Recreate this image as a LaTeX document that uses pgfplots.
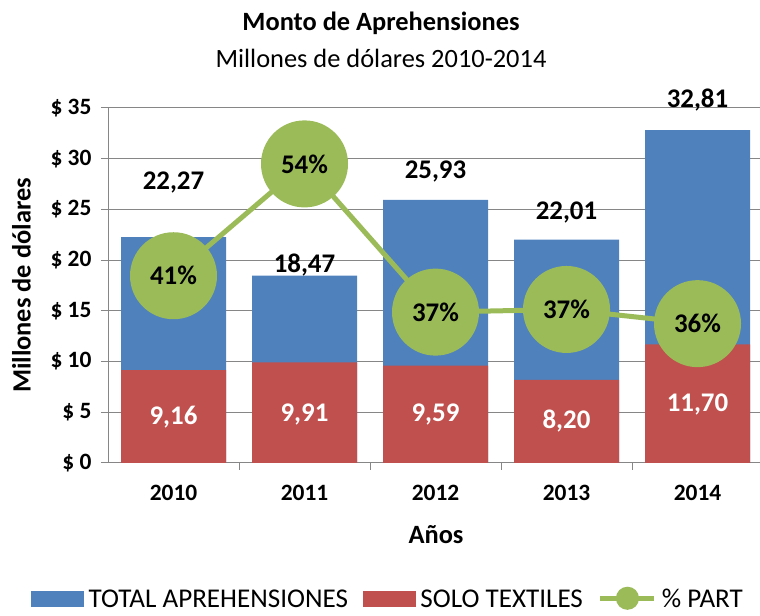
\documentclass[border=0pt]{standalone}
\usepackage{pgfplots}
\pgfplotsset{compat=1.18}
\usepackage{fontspec}
\setmainfont{Carlito}
\definecolor{cblue}{HTML}{4F81BD}
\definecolor{cred}{HTML}{C0504D}
\definecolor{cgreen}{HTML}{9BBB59}
\definecolor{cgrid}{HTML}{868686}
\begin{document}
\begin{tikzpicture}[x=1bp,y=1bp]
\path[use as bounding box] (0,0) rectangle (760,616);
\node[font=\fontsize{26.5}{30}\selectfont\bfseries] at (381,593) {Monto de Aprehensiones};
\node[font=\fontsize{26.5}{30}\selectfont] at (381,558) {Millones de dólares 2010-2014};
\begin{axis}[
  at={(108bp,153bp)}, anchor=south west, scale only axis,
  width=655bp, height=355bp,
  xmin=-0.5, xmax=4.5, ymin=0, ymax=35,
  clip=false,
  axis x line*=bottom, axis y line*=left,
  axis line style={cgrid, line width=1bp, -},
  ytick={0,5,...,35},
  yticklabels={\$ 0,\$ 5,\$ 10,\$ 15,\$ 20,\$ 25,\$ 30,\$ 35},
  ymajorgrids, grid style={cgrid, line width=1bp},
  xtick={0.5,1.5,2.5,3.5}, xticklabels={},
  extra x ticks={0,1,2,3,4},
  extra x tick labels={2010,2011,2012,2013,2014},
  extra x tick style={major tick length=0pt, grid=none},
  every x tick label/.append style={yshift=-19bp},
  every y tick label/.append style={xshift=-6bp},
  tick align=outside, major tick length=7bp,
  tick style={cgrid, line width=1bp},
  ticklabel style={font=\fontsize{23.5}{27}\selectfont\bfseries},
  ylabel={Millones de dólares},
  ylabel style={at={(axis description cs:-0.132,0.5)}, anchor=center, font=\fontsize{26.5}{30}\selectfont\bfseries},
  xlabel={Años},
  xlabel style={at={(axis description cs:0.5008,-0.203)}, anchor=center, font=\fontsize{26.5}{30}\selectfont\bfseries},
]
\addplot[ybar, bar width=105bp, bar shift=0pt, fill=cblue, draw=none] coordinates {(0,22.27) (1,18.47) (2,25.93) (3,22.01) (4,32.81)};
\addplot[ybar, bar width=105bp, bar shift=0pt, fill=cred, draw=none] coordinates {(0,9.16) (1,9.91) (2,9.59) (3,8.20) (4,11.70)};
\addplot[draw=none, mark=none, nodes near coords, point meta=explicit symbolic,
  nodes near coords align=center,
  every node near coord/.append style={font=\fontsize{27}{30}\selectfont\bfseries, text=black}]
  table[meta=lab] {
x y lab
0 27.7 22,27
1 19.5 18,47
2 28.7 25,93
3 24.65 22,01
4 35.8 32,81
};
\addplot[draw=none, mark=none, nodes near coords, point meta=explicit symbolic,
  nodes near coords align=center,
  every node near coord/.append style={font=\fontsize{27}{30}\selectfont\bfseries, text=white}]
  table[meta=lab] {
x y lab
0 4.5 9,16
1 4.8 9,91
2 4.8 9,59
3 4.1 8,20
4 5.75 11,70
};
\end{axis}
\begin{axis}[
  at={(108bp,153bp)}, anchor=south west, scale only axis,
  width=655bp, height=355bp,
  xmin=-0.5, xmax=4.5, ymin=0.2, ymax=0.6,
  clip=false, hide axis,
  legend columns=3,
  legend style={draw=none, fill=none, at={(axis description cs:-0.122,-0.381)}, anchor=west,
    font=\fontsize{27.2}{29}\selectfont,
    /tikz/every even column/.append style={column sep=12bp},
    /tikz/every odd column/.append style={column sep=2bp},
    nodes={inner xsep=3bp, inner ysep=1bp, text depth=0pt}},
]
\addlegendimage{legend image code/.code={\fill[cblue] (0bp,-7.5bp) rectangle (52bp,7.5bp);}}
\addlegendentry{TOTAL APREHENSIONES}
\addlegendimage{legend image code/.code={\fill[cred] (0bp,-7.5bp) rectangle (52bp,7.5bp);}}
\addlegendentry{SOLO TEXTILES}
\addplot[cgreen, line width=5bp, mark=*, mark size=41bp, mark options={fill=cgreen, draw=none},
  nodes near coords, point meta=explicit symbolic, nodes near coords align=center,
  every node near coord/.append style={font=\fontsize{27}{30}\selectfont\bfseries, text=black},
  legend image code/.code={\draw[cgreen, line width=5bp] (0bp,0bp) -- (54bp,0bp); \fill[cgreen] (27bp,0bp) circle (9bp);}]
  table[meta=lab] {
x y lab
0 0.411 41\%
1 0.537 54\%
2 0.370 37\%
3 0.373 37\%
4 0.357 36\%
};
\addlegendentry{\% PART}
\end{axis}
\end{tikzpicture}
\end{document}
